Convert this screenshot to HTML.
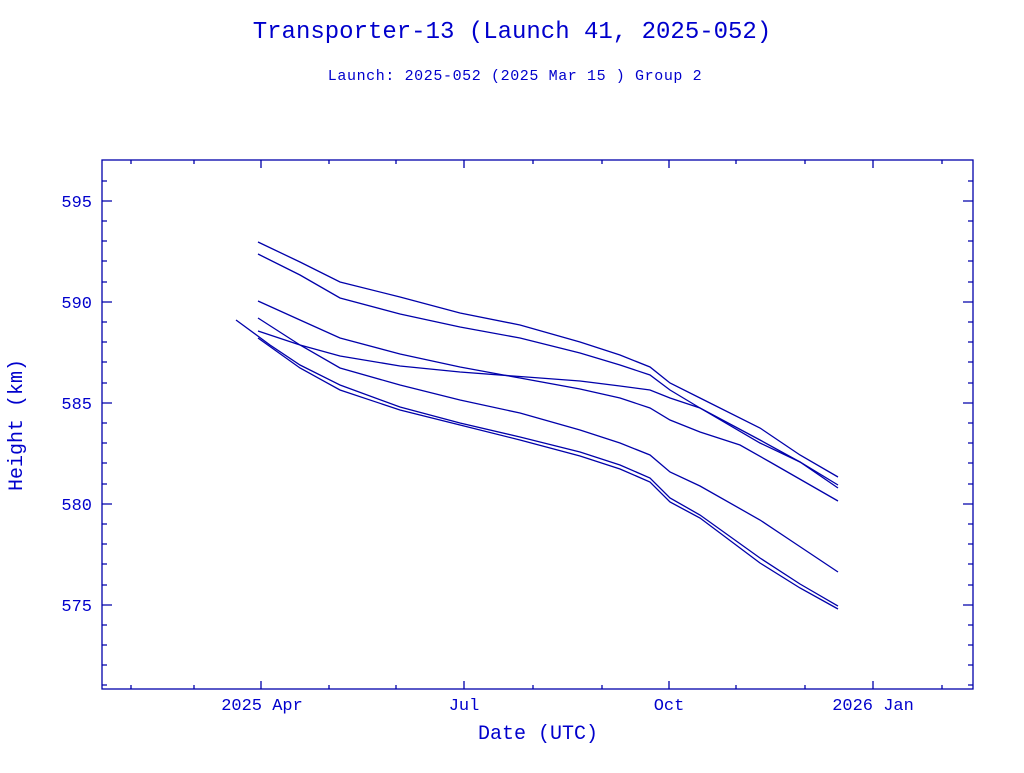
<!DOCTYPE html>
<html><head><meta charset="utf-8"><style>
body{margin:0;background:#fff;}
svg text{font-family:"Liberation Mono","DejaVu Sans Mono",monospace;fill:#0000cc;}
</style></head><body>
<svg width="1024" height="768" xmlns="http://www.w3.org/2000/svg">
<text x="512" y="38" font-size="24" text-anchor="middle">Transporter-13 (Launch 41, 2025-052)</text>
<text x="515" y="80" font-size="15" letter-spacing="0.6" text-anchor="middle">Launch: 2025-052  (2025 Mar 15 )  Group 2</text>
<g stroke="#0000aa" stroke-width="1.3" fill="none">
<rect x="102" y="160" width="871" height="529"/>
<path d="M102 201h10M102 302h10M102 403h10M102 504h10M102 605h10M973 201h-10M973 302h-10M973 403h-10M973 504h-10M973 605h-10"/>
<path d="M102 181h5M102 221h5M102 241h5M102 261h5M102 282h5M102 322h5M102 342h5M102 362h5M102 383h5M102 423h5M102 443h5M102 463h5M102 484h5M102 524h5M102 544h5M102 564h5M102 585h5M102 625h5M102 645h5M102 665h5M102 685h5M973 181h-5M973 221h-5M973 241h-5M973 261h-5M973 282h-5M973 322h-5M973 342h-5M973 362h-5M973 383h-5M973 423h-5M973 443h-5M973 463h-5M973 484h-5M973 524h-5M973 544h-5M973 564h-5M973 585h-5M973 625h-5M973 645h-5M973 665h-5M973 685h-5"/>
<path d="M261 689v-8M464 689v-8M669 689v-8M873 689v-8M261 160v8M464 160v8M669 160v8M873 160v8"/>
<path d="M131 689v-4M194 689v-4M329 689v-4M396 689v-4M533 689v-4M602 689v-4M736 689v-4M805 689v-4M942 689v-4M131 160v4M194 160v4M329 160v4M396 160v4M533 160v4M602 160v4M736 160v4M805 160v4M942 160v4"/>
<polyline points="258,242 300,262 340,282 400,297 460,313 520,325 580,342 620,355 650,367 670,383 700,398 760,428 800,455 838,477"/>
<polyline points="258,254 300,275 340,298 400,314 460,327 520,338 580,353 620,365 650,375 670,390 700,408 760,443 800,462 838,488"/>
<polyline points="258,301 300,320 340,338 400,354 460,367 520,378 580,389 620,398 650,408 670,420 700,432 740,445 770,462 838,501"/>
<polyline points="258,331 300,345 340,356 400,366 460,372 540,378 580,381 620,386 650,390 670,398 700,408 760,440 800,462 838,485"/>
<polyline points="258,318 300,345 340,368 400,385 460,400 520,413 580,430 620,443 650,455 670,472 700,486 760,520 790,540 838,572"/>
<polyline points="236,320 270,345 300,365 340,385 400,407 460,423 520,437 580,452 620,465 650,478 670,498 700,515 760,558 800,584 838,606"/>
<polyline points="258,338 300,368 340,390 400,410 460,425 520,440 580,456 620,469 650,482 670,502 700,518 760,563 800,588 838,609"/>
</g>
<g font-size="17">
<text x="92" y="207" text-anchor="end">595</text>
<text x="92" y="308" text-anchor="end">590</text>
<text x="92" y="409" text-anchor="end">585</text>
<text x="92" y="510" text-anchor="end">580</text>
<text x="92" y="611" text-anchor="end">575</text>
<text x="262" y="710" text-anchor="middle">2025 Apr</text>
<text x="464" y="710" text-anchor="middle">Jul</text>
<text x="669" y="710" text-anchor="middle">Oct</text>
<text x="873" y="710" text-anchor="middle">2026 Jan</text>
</g>
<text x="538" y="739" font-size="20" text-anchor="middle">Date (UTC)</text>
<text transform="translate(22,425) rotate(-90)" font-size="20" text-anchor="middle">Height (km)</text>
</svg>
</body></html>
